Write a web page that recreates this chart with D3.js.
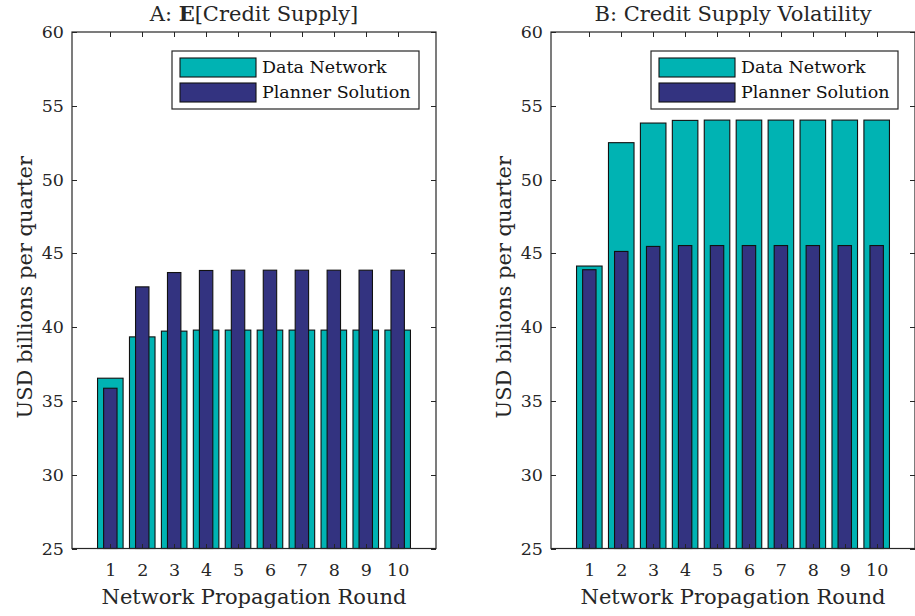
<!DOCTYPE html>
<html>
<head>
    <title>Credit supply bars</title>
    <script src="https://d3js.org/d3.v7.min.js"></script>
    <style>
        body { margin: 0; background: #fff; }
        svg { display: block; font-family: "DejaVu Serif", serif; }
        .axis path { display: none; }
        .axis line { stroke: #262626; shape-rendering: crispEdges; }
        .axis text { fill: #262626; font-size: 17.5px; font-family: "DejaVu Serif", serif; }
        .label { fill: #262626; font-size: 21px; }
    </style>
</head>
<body>
    <script>
        // data
        const rounds = [1, 2, 3, 4, 5, 6, 7, 8, 9, 10];
        const meanNetwork = [36.54, 39.34, 39.73, 39.80, 39.80, 39.80, 39.80, 39.80, 39.80, 39.80];
        const meanPlanner = [35.86, 42.73, 43.70, 43.84, 43.86, 43.86, 43.86, 43.86, 43.86, 43.86];
        const volNetwork = [44.14, 52.50, 53.83, 54.01, 54.03, 54.03, 54.03, 54.03, 54.03, 54.03];
        const volPlanner = [43.89, 45.13, 45.47, 45.53, 45.53, 45.53, 45.53, 45.53, 45.53, 45.53];
        const yTicks = [25, 30, 35, 40, 45, 50, 55, 60];
        const seriesNames = ["Data Network", "Planner Solution"];

        const colors = ["#00b3b3", "#333380"];
        const width = 915, height = 616;
        const plotTop = 32, plotBottom = 548.5;

        const svg = d3.select("body").append("svg")
            .attr("width", width)
            .attr("height", height);

        function drawPanel(left, right, titleParts, network, planner) {
            const g = svg.append("g");

            const x = d3.scaleLinear().domain([-0.2, 11.2]).range([left, right]);
            const y = d3.scaleLinear().domain([25, 60]).range([plotBottom, plotTop]);

            // wide bars first, narrow planner bars on top
            const series = [
                { vals: network, w: 0.8, color: colors[0] },
                { vals: planner, w: 0.42, color: colors[1] }
            ];
            series.forEach(s => {
                g.append("g").selectAll("rect")
                    .data(rounds)
                    .enter()
                    .append("rect")
                    .attr("x", (d) => x(d - s.w / 2))
                    .attr("width", x(s.w) - x(0))
                    .attr("y", (d, i) => y(s.vals[i]))
                    .attr("height", (d, i) => y(25) - y(s.vals[i]))
                    .attr("fill", s.color)
                    .attr("stroke", "#111")
                    .attr("stroke-width", 1.1);
            });

            // box + ticks pointing inward
            g.append("g").attr("class", "axis")
                .attr("transform", `translate(${left},0)`)
                .call(d3.axisLeft(y).tickValues(yTicks).tickSizeInner(-5).tickSizeOuter(0).tickPadding(8));
            g.append("g").attr("class", "axis")
                .attr("transform", `translate(${right},0)`)
                .call(d3.axisRight(y).tickValues(yTicks).tickSizeInner(-5).tickSizeOuter(0).tickFormat(""));
            g.append("g").attr("class", "axis")
                .attr("transform", `translate(0,${plotBottom})`)
                .call(d3.axisBottom(x).tickValues(rounds).tickSizeInner(-5).tickSizeOuter(0).tickPadding(15));
            g.append("g").attr("class", "axis")
                .attr("transform", `translate(0,${plotTop})`)
                .call(d3.axisTop(x).tickValues(rounds).tickSizeInner(-5).tickSizeOuter(0).tickFormat(""));

            g.append("rect")
                .attr("x", left).attr("y", plotTop)
                .attr("width", right - left).attr("height", plotBottom - plotTop)
                .attr("fill", "none")
                .attr("stroke", "#262626")
                .attr("stroke-width", 1.2);

            // title
            const t = g.append("text").attr("class", "label")
                .attr("x", (left + right) / 2).attr("y", 21)
                .attr("text-anchor", "middle");
            titleParts.forEach(p => {
                t.append("tspan").attr("font-weight", p.bold ? "bold" : "normal").text(p.text);
            });

            g.append("text").attr("class", "label")
                .attr("x", (left + right) / 2).attr("y", 604)
                .attr("text-anchor", "middle")
                .attr("font-size", "21.5px")
                .text("Network Propagation Round");

            g.append("text").attr("class", "label")
                .attr("transform", `translate(${left - 40},${(plotTop + plotBottom) / 2 - 3}) rotate(-90)`)
                .attr("text-anchor", "middle")
                .attr("font-size", "22px")
                .text("USD billions per quarter");

            // legend
            const lx = left + 100, ly = 51;
            const leg = g.append("g").attr("transform", `translate(${lx},${ly})`);
            leg.append("rect")
                .attr("width", right - 17 - lx).attr("height", 58)
                .attr("fill", "#fff").attr("stroke", "#262626").attr("stroke-width", 1.2);
            seriesNames.forEach((name, i) => {
                leg.append("rect")
                    .attr("x", 8).attr("y", 7 + i * 25)
                    .attr("width", 76).attr("height", 19)
                    .attr("fill", colors[i]).attr("stroke", "#111").attr("stroke-width", 1.1);
                leg.append("text")
                    .attr("x", 90).attr("y", 22 + i * 25)
                    .attr("fill", "#111")
                    .attr("font-size", "17.5px")
                    .text(name);
            });
        }

        drawPanel(72, 436, [{ text: "A: " }, { text: "E", bold: true }, { text: "[Credit Supply]" }], meanNetwork, meanPlanner);
        drawPanel(551, 915, [{ text: "B: Credit Supply Volatility" }], volNetwork, volPlanner);
    </script>
</body>
</html>
